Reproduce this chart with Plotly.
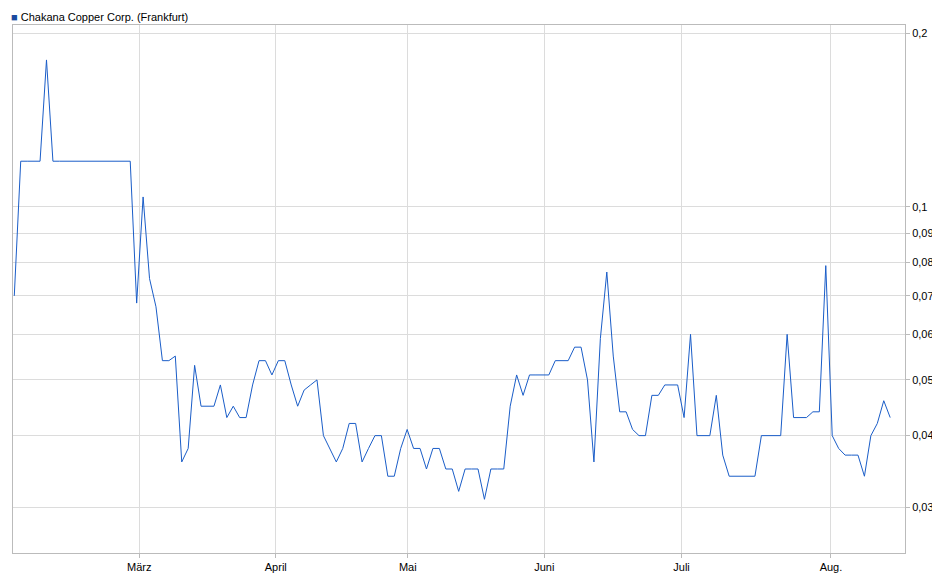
import plotly.graph_objects as go

values = [0.07,0.12,0.12,0.12,0.12,0.18,0.12,0.12,0.12,0.12,0.12,0.12,0.12,0.12,0.12,0.12,0.12,0.12,0.12,
0.068,0.104,0.075,0.067,0.054,0.054,0.055,0.036,0.038,0.053,0.045,0.045,0.045,0.049,0.043,0.045,0.043,0.043,
0.049,0.054,0.054,0.051,0.054,0.054,0.049,0.045,0.048,0.049,0.05,0.04,0.038,0.036,0.038,0.042,0.042,0.036,
0.038,0.040,0.040,0.034,0.034,0.038,0.041,0.038,0.038,0.035,0.038,0.038,0.035,0.035,0.032,0.035,0.035,0.035,
0.031,0.035,0.035,0.035,0.045,0.051,0.047,0.051,0.051,0.051,0.051,0.054,0.054,0.054,0.057,0.057,0.050,0.036,
0.059,0.077,0.055,0.044,0.044,0.041,0.040,0.040,0.047,0.047,0.049,0.049,0.049,0.043,0.060,0.040,0.040,0.040,
0.047,0.037,0.034,0.034,0.034,0.034,0.034,0.040,0.040,0.040,0.040,0.060,0.043,0.043,0.043,0.044,0.044,0.079,
0.040,0.038,0.037,0.037,0.037,0.034,0.040,0.042,0.046,0.043]
days = list(range(len(values)))

month_ticks = [19.4, 40.6, 61.1, 82.3, 103.6, 126.8]
month_labels = ["März","April","Mai","Juni","Juli","Aug."]
y_ticks = [0.03,0.04,0.05,0.06,0.07,0.08,0.09,0.1,0.2]
y_labels = ["0,03","0,04","0,05","0,06","0,07","0,08","0,09","0,1","0,2"]

fig = go.Figure(go.Scatter(x=days, y=values, mode="lines", line=dict(color="#1a5dc8", width=1), showlegend=False))

imax = values.index(max(values)); imin = values.index(min(values))
fig.add_annotation(x=days[imax], y=0.18, text="0,18", showarrow=False, yshift=9,
                   font=dict(color="#999", size=11))
fig.add_annotation(x=days[imin], y=0.031, text="0,03", showarrow=False, yshift=-10,
                   font=dict(color="#999", size=11))

fig.add_annotation(xref="paper", yref="paper", x=-0.005, y=1.0, yanchor="bottom", xanchor="left",
                   text="<span style='color:#1a4aa0'>■</span> Chakana Copper Corp. (Frankfurt)",
                   showarrow=False, font=dict(size=11, color="#000"))

fig.update_layout(
    width=940, height=579, margin=dict(l=5, r=43, t=17, b=34),
    plot_bgcolor="white", paper_bgcolor="white",
    font=dict(family="Liberation Sans, Arial", size=11, color="#000"),
    xaxis=dict(range=[-0.2, 138.3], tickvals=month_ticks, ticktext=month_labels, automargin=False,
               showgrid=True, gridcolor="#dcdcdc", showline=True, linecolor="#bbb", mirror=True,
               ticks="outside", ticklen=4, tickcolor="#bbb", zeroline=False),
    yaxis=dict(type="log", side="right", range=[-1.602, -0.684], tickvals=y_ticks, ticktext=y_labels,
               automargin=False,
               showgrid=True, gridcolor="#dcdcdc", showline=True, linecolor="#bbb", mirror=True,
               ticks="outside", ticklen=4, tickcolor="#bbb", zeroline=False),
)
fig.write_html("out.html")
